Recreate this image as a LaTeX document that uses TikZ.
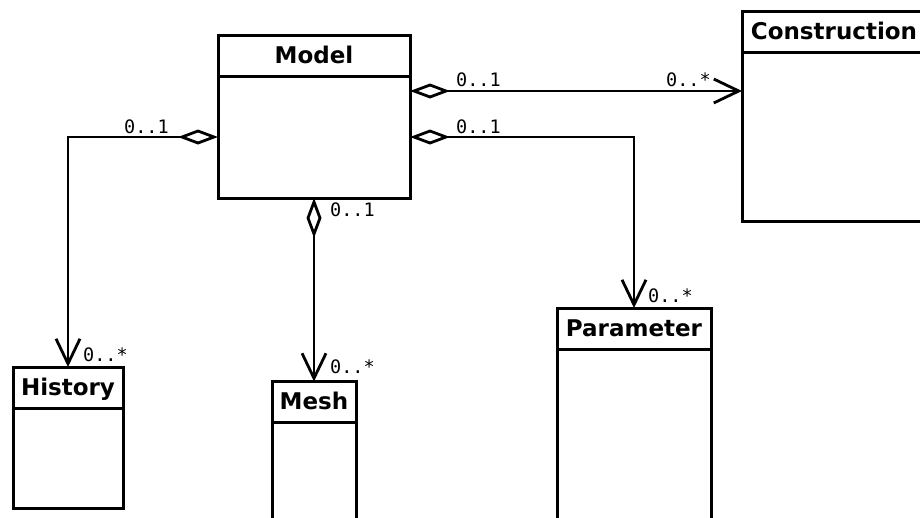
\documentclass[tikz,border=0pt]{standalone}
\usepackage{fontspec}
\usepackage{tikz}
\usetikzlibrary{positioning,arrows.meta}
\newfontfamily\classfont{DejaVu Sans}
\newfontfamily\multfont{DejaVu Sans Mono}

\begin{document}
\begin{tikzpicture}[x=1pt, y=-1pt,
  classhead/.style={draw, line width=3pt, minimum height=41pt, inner sep=0pt, outer sep=0pt,
    text height=16pt, text depth=1pt, font=\classfont\bfseries\fontsize{23}{23}\selectfont},
  classbody/.style={draw, line width=3pt, inner sep=0pt, outer sep=0pt},
  mult/.style={anchor=base west, inner sep=0pt, font=\multfont\fontsize{18.5}{18.5}\selectfont},
  assoc/.style={line width=2.8pt, {Diamond[open,length=40pt,width=15pt]}-{Straight Barb[length=25pt,width=24pt]}}]
  \fill[white] (0,0) rectangle (920,517);
  \clip (0,0) rectangle (920,517);

  % Classes
  \node[classhead, minimum width=192pt] (model-head) at (314,55.5) {Model};
  \node[classbody, minimum width=192pt, minimum height=122pt, below=0pt of model-head] (model-body) {};

  \node[classhead, minimum width=184pt] (construction-head) at (834,31.5) {Construction};
  \node[classbody, minimum width=184pt, minimum height=169pt, below=0pt of construction-head] (construction-body) {};

  \node[classhead, minimum width=110pt] (history-head) at (68,387.5) {History};
  \node[classbody, minimum width=110pt, minimum height=100pt, below=0pt of history-head] (history-body) {};

  \node[classhead, minimum width=84pt] (mesh-head) at (314,402) {Mesh};
  \node[classbody, minimum width=84pt, minimum height=150pt, below=0pt of mesh-head] (mesh-body) {};

  \node[classhead, minimum width=154pt] (parameter-head) at (634,328.5) {Parameter};
  \node[classbody, minimum width=154pt, minimum height=200pt, below=0pt of parameter-head] (parameter-body) {};

  % Associations
  \draw[assoc] ([yshift=-15pt]model-body.north east) -- ([yshift=-15pt]model-body.north east -| construction-body.west);
  \draw[assoc] (model-body.east) -| (parameter-head.north);
  \draw[assoc] (model-body.west) -| (history-head.north);
  \draw[assoc] (model-body.south) -- (mesh-head.north);

  % Multiplicities
  \node[mult] (mc-from) at (456,86) {0..1};
  \node[mult] (mc-to) at (666,86) {0..*};
  \node[mult] (mp-from) at (456,133) {0..1};
  \node[mult] (mp-to) at (648,302) {0..*};
  \node[mult] (mh-from) at (124,133) {0..1};
  \node[mult] (mh-to) at (83,361) {0..*};
  \node[mult] (mm-from) at (330,216) {0..1};
  \node[mult] (mm-to) at (330,373) {0..*};
\end{tikzpicture}
\end{document}
